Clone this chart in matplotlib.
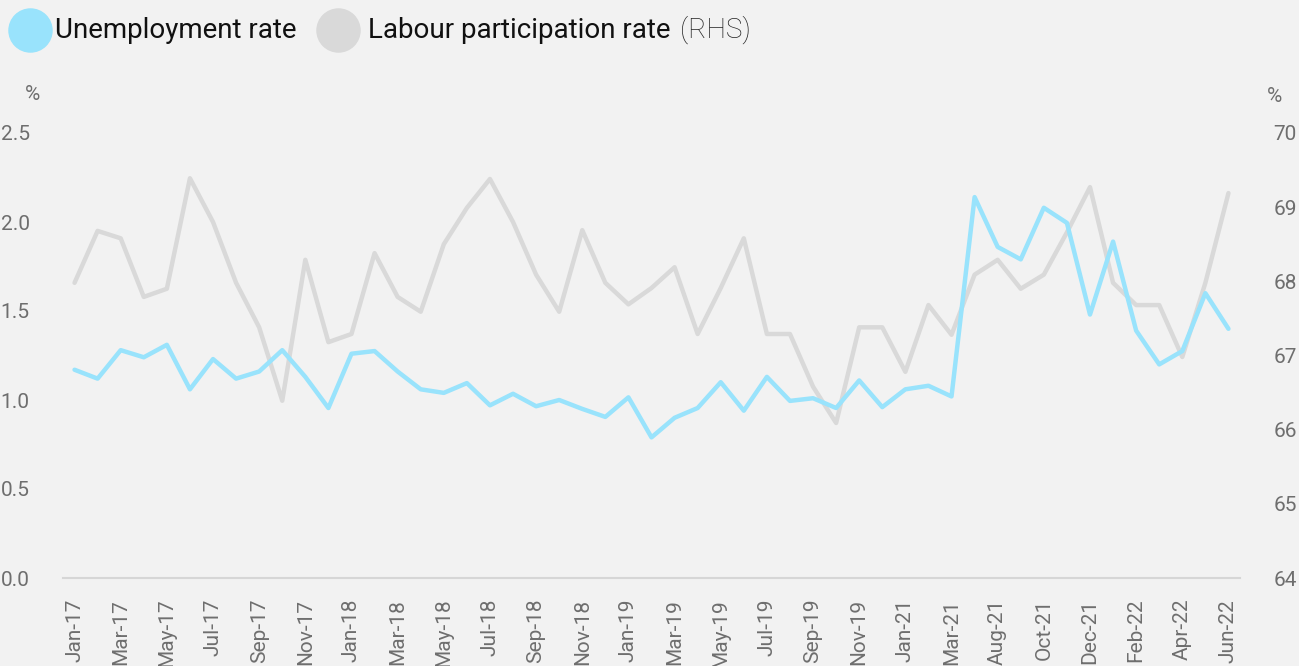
import matplotlib
matplotlib.use("Agg")
import matplotlib.pyplot as plt
from matplotlib.lines import Line2D

plt.rcParams['font.family'] = ['Roboto', 'DejaVu Sans']

months = (["Jan-17","Feb-17","Mar-17","Apr-17","May-17","Jun-17","Jul-17","Aug-17","Sep-17","Oct-17","Nov-17","Dec-17",
           "Jan-18","Feb-18","Mar-18","Apr-18","May-18","Jun-18","Jul-18","Aug-18","Sep-18","Oct-18","Nov-18","Dec-18",
           "Jan-19","Feb-19","Mar-19","Apr-19","May-19","Jun-19","Jul-19","Aug-19","Sep-19","Oct-19","Nov-19","Dec-19",
           "Jan-21","Feb-21","Mar-21","Jul-21","Aug-21","Sep-21","Oct-21","Nov-21","Dec-21",
           "Jan-22","Feb-22","Mar-22","Apr-22","May-22","Jun-22"])

unemployment = [1.17,1.12,1.28,1.24,1.31,1.06,1.23,1.12,1.16,1.28,1.13,0.955,
                1.26,1.275,1.16,1.06,1.04,1.095,0.97,1.035,0.965,1.00,0.95,0.905,
                1.015,0.79,0.90,0.955,1.10,0.94,1.13,0.995,1.01,0.955,1.11,0.96,
                1.06,1.08,1.02,2.14,1.86,1.79,2.08,1.995,1.48,
                1.89,1.39,1.20,1.275,1.60,1.40]

participation = [67.98,68.68,68.58,67.79,67.90,69.39,68.80,67.98,67.38,66.39,68.29,67.18,
                 67.29,68.38,67.79,67.59,68.50,68.99,69.38,68.80,68.09,67.59,68.69,67.98,
                 67.69,67.91,68.19,67.29,67.91,68.58,67.29,67.29,66.58,66.09,67.38,67.38,
                 66.78,67.68,67.28,68.09,68.29,67.90,68.09,68.66,69.27,
                 67.98,67.68,67.68,66.98,67.98,69.19]

left_ticks = [0.0, 0.5, 1.0, 1.5, 2.0, 2.5]
right_ticks = [64, 65, 66, 67, 68, 69, 70]

BG = "#f2f2f2"
BLUE = "#99e3fc"
GREY = "#d9d9d9"
TXT = "#6e6e6e"

W, H = 1299, 666
fig = plt.figure(figsize=(W/100, H/100), dpi=100, facecolor=BG)
ax = fig.add_axes([63/W, 1-578/H, (1240-63)/W, (578-133)/H], facecolor=BG)
ax2 = ax.twinx()

x = list(range(len(months)))
ax2.plot(x, participation, color=GREY, lw=3.2, solid_joinstyle='round', solid_capstyle='round', zorder=2)
ax.plot(x, unemployment, color=BLUE, lw=3.2, solid_joinstyle='round', solid_capstyle='round', zorder=3)
ax.set_zorder(2); ax2.set_zorder(1)
ax.patch.set_visible(False)
ax2.patch.set_facecolor(BG)

ax.set_xlim(-0.5, len(months)-0.5)
ax.set_ylim(0, 2.5)
ax2.set_ylim(64, 70)
ax.set_yticks(left_ticks)
ax.set_yticklabels([f"{v:.1f}" for v in left_ticks])
ax2.set_yticks(right_ticks)
ax2.set_yticklabels([str(v) for v in right_ticks])

ax.set_xticks(x[::2])
ax.set_xticklabels(months[::2], rotation=90, va='top', ha='center')

for a in (ax, ax2):
    for s in a.spines.values():
        s.set_visible(False)
ax.axhline(0, color="#d6d6d6", lw=1.5, zorder=1, clip_on=False)

ax.tick_params(axis='x', length=0, pad=15, labelsize=15, labelcolor=TXT)
ax.tick_params(axis='y', length=0, pad=24, labelsize=15, labelcolor=TXT)
ax2.tick_params(axis='y', length=0, pad=24, labelsize=15, labelcolor=TXT)

fig.text(33/W, 1-94/H, "%", ha='center', va='center', fontsize=15, color=TXT)
fig.text(1275/W, 1-97/H, "%", ha='center', va='center', fontsize=15, color=TXT)

# legend
fig.add_artist(Line2D([30/W], [1-30/H], marker='o', markersize=31, color=BLUE, lw=0, transform=fig.transFigure))
fig.text(55/W, 1-30/H, "Unemployment rate", ha='left', va='center', fontsize=20, color="#111111")
fig.add_artist(Line2D([338/W], [1-30/H], marker='o', markersize=31, color=GREY, lw=0, transform=fig.transFigure))
t = fig.text(368/W, 1-30/H, "Labour participation rate", ha='left', va='center', fontsize=20, color="#111111")
fig.canvas.draw()
bb = t.get_window_extent()
fig.text((bb.x1 + 10)/W, 1-30/H, "(RHS)", ha='left', va='center', fontsize=20, color="#222222", fontweight='light')

fig.savefig("out.png", dpi=100, facecolor=BG)
